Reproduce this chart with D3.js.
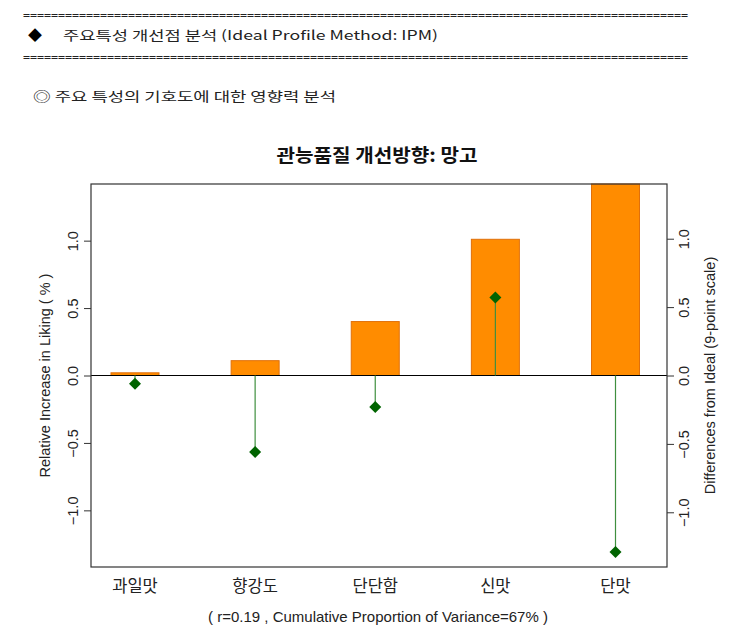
<!DOCTYPE html>
<html><head><meta charset="utf-8">
<script src="https://cdn.jsdelivr.net/npm/d3@7"></script>
<style>body{margin:0;background:#fff}svg{display:block}</style>
</head><body>
<script>
const categories = ["과일맛","향강도","단단함","신맛","단맛"];
const liking = [0.02, 0.11, 0.40, 1.01, 1.42];
const diffs = [-0.06, -0.56, -0.23, 0.57, -1.29];
const leftTicks = [-1.0, -0.5, 0.0, 0.5, 1.0];
const rightTicks = [-1.0, -0.5, 0.0, 0.5, 1.0];
const titleText = "관능품질 개선방향: 망고";
const captionText = "( r=0.19 , Cumulative Proportion of Variance=67% )";

const W = 738, H = 632;
const box = {l: 91, r: 667, t: 184, b: 567};
const svg = d3.select("body").append("svg").attr("width", W).attr("height", H);
const kr = "'Noto Sans CJK KR', sans-serif";
const ar = "'Liberation Sans', Arial, sans-serif";

// header
const eq = "=".repeat(95);
[15, 57].forEach(y => svg.append("text").attr("x", 23).attr("y", y + 4)
  .attr("font-family", "'DejaVu Sans Mono', monospace").attr("font-size", 10).attr("fill", "#222")
  .attr("textLength", 665).attr("lengthAdjust", "spacingAndGlyphs").text(eq));
svg.append("text").attr("x", 28).attr("y", 40).attr("font-family", kr).attr("font-size", 14).text("◆");
svg.append("text").attr("x", 63).attr("y", 40).attr("font-family", kr).attr("font-size", 13).attr("fill", "#222")
  .attr("textLength", 375).attr("lengthAdjust", "spacingAndGlyphs")
  .text("주요특성 개선점  분석 (Ideal Profile Method: IPM)");
svg.append("text").attr("x", 33).attr("y", 101).attr("font-family", kr).attr("font-size", 13).attr("fill", "#222")
  .attr("textLength", 303).attr("lengthAdjust", "spacingAndGlyphs")
  .text("◎ 주요 특성의 기호도에 대한 영향력 분석");

// scales
const x = d3.scalePoint().domain(categories).range([135, 615.5]);
const y1 = d3.scaleLinear().domain([-1.42, 1.42]).range([box.b, box.t]);
const y2 = d3.scaleLinear().domain([-1.40, 1.40]).range([box.b, box.t]);
const bw = 48;

// bars
svg.append("g").selectAll("rect").data(categories).join("rect")
  .attr("x", d => x(d) - bw / 2)
  .attr("y", (d, i) => y1(Math.max(0, liking[i])))
  .attr("width", bw)
  .attr("height", (d, i) => Math.abs(y1(liking[i]) - y1(0)))
  .attr("fill", "#FF8C00").attr("stroke", "#E0700A").attr("stroke-width", 1);

// zero line
svg.append("line").attr("x1", box.l).attr("x2", box.r).attr("y1", y1(0)).attr("y2", y1(0))
  .attr("stroke", "#000").attr("stroke-width", 1.2);

// stems and points
svg.append("g").selectAll("line").data(categories).join("line")
  .attr("x1", d => x(d)).attr("x2", d => x(d))
  .attr("y1", y2(0)).attr("y2", (d, i) => y2(diffs[i]))
  .attr("stroke", "#3f8f3f").attr("stroke-width", 1.2);
svg.append("g").selectAll("path").data(categories).join("path")
  .attr("transform", (d, i) => `translate(${x(d)},${y2(diffs[i])})`)
  .attr("d", "M0,-6L6,0L0,6L-6,0Z").attr("fill", "#006400");

// frame
svg.append("rect").attr("x", box.l).attr("y", box.t).attr("width", box.r - box.l).attr("height", box.b - box.t)
  .attr("fill", "none").attr("stroke", "#333").attr("stroke-width", 1.2);

// left axis
const gl = svg.append("g").attr("transform", `translate(${box.l},0)`)
  .call(d3.axisLeft(y1).tickValues(leftTicks).tickFormat(d3.format(".1f")).tickSize(7).tickPadding(0));
gl.select(".domain").remove();
gl.selectAll("line").attr("stroke", "#333");
gl.selectAll(".tick text").attr("font-family", ar).attr("font-size", 14.5).attr("fill", "#222")
  .attr("text-anchor", "middle").attr("x", 0).attr("y", 0).attr("dy", "0.35em")
  .attr("transform", `rotate(-90) translate(0,-18)`);

// right axis
const gr = svg.append("g").attr("transform", `translate(${box.r},0)`)
  .call(d3.axisRight(y2).tickValues(rightTicks).tickFormat(d3.format(".1f")).tickSize(7).tickPadding(0));
gr.select(".domain").remove();
gr.selectAll("line").attr("stroke", "#333");
gr.selectAll(".tick text").attr("font-family", ar).attr("font-size", 14.5).attr("fill", "#222")
  .attr("text-anchor", "middle").attr("x", 0).attr("y", 0).attr("dy", "0.35em")
  .attr("transform", `rotate(-90) translate(0,17)`);

// axis titles
svg.append("text").attr("transform", `translate(45,${(box.t + box.b) / 2}) rotate(-90)`)
  .attr("text-anchor", "middle").attr("font-family", ar).attr("font-size", 14.5).attr("fill", "#222")
  .attr("dy", "0.35em").text("Relative Increase in Liking ( % )");
svg.append("text").attr("transform", `translate(710,${(box.t + box.b) / 2}) rotate(-90)`)
  .attr("text-anchor", "middle").attr("font-family", ar).attr("font-size", 14.5).attr("fill", "#222")
  .attr("dy", "0.35em").text("Differences from Ideal (9-point scale)");

// category labels
svg.append("g").selectAll("text").data(categories).join("text")
  .attr("x", d => x(d)).attr("y", 592).attr("text-anchor", "middle")
  .attr("font-family", kr).attr("font-size", 16.5).attr("fill", "#222").text(d => d);

// title and caption
svg.append("text").attr("x", 377).attr("y", 162).attr("text-anchor", "middle")
  .attr("font-family", kr).attr("font-size", 18).attr("font-weight", "bold").attr("fill", "#111")
  .attr("textLength", 201).attr("lengthAdjust", "spacingAndGlyphs").text(titleText);
svg.append("text").attr("x", 378).attr("y", 622).attr("text-anchor", "middle")
  .attr("font-family", ar).attr("font-size", 15).attr("fill", "#222").text(captionText);
</script>
</body></html>
